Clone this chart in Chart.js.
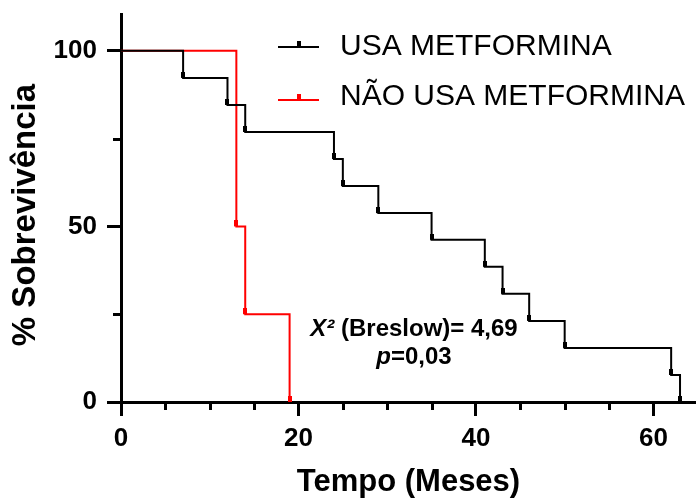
<!DOCTYPE html>
<html>
<head>
<meta charset="utf-8">
<script src="https://cdn.jsdelivr.net/npm/chart.js@4.4.1/dist/chart.umd.min.js"></script>
<style>
  html, body { margin: 0; padding: 0; background: #fff; }
  #wrap { width: 696px; height: 501px; }
</style>
</head>
<body>
<div id="wrap"><canvas id="km" width="696" height="501"></canvas></div>
<script>
// Kaplan-Meier data (months, % survival)
const mesesUsa = [0, 7, 12, 14, 24, 25, 29, 35, 41, 43, 46, 50, 62, 63];
const survUsa  = [100, 92.3, 84.6, 76.9, 69.2, 61.5, 53.8, 46.2, 38.5, 30.8, 23.1, 15.4, 7.7, 0];
const mesesNao = [0, 13, 14, 19];
const survNao  = [100, 50, 25, 0];

const labelUsa = 'USA METFORMINA';
const labelNao = 'NÃO USA METFORMINA';
const xTicksShown = [0, 20, 40, 60];
const yTicksShown = [0, 50, 100];
const statLine1 = ['X²', ' (Breslow)= 4,69'];
const statLine2 = ['p', '=0,03'];

const FONT = "'Liberation Sans', Arial, sans-serif";

// small tick mark drawn above each event point
function makeMark(color) {
  const c = document.createElement('canvas');
  c.width = 4; c.height = 12;
  const g = c.getContext('2d');
  g.fillStyle = color;
  g.fillRect(0, 0, 4, 6);
  return c;
}

function toPoints(xs, ys) {
  return xs.map((x, i) => ({ x: x, y: ys[i] }));
}

const isMajorX = v => v % 20 === 0;
const isMajorY = v => v % 50 === 0;

function noScalePad(s) {
  s.paddingTop = 0; s.paddingBottom = 0;
  s.paddingLeft = 0; s.paddingRight = 0;
}

// minor ticks, custom legend, y title, stats text
const extras = {
  id: 'extras',
  afterDraw(chart) {
    const ctx = chart.ctx;
    const xs = chart.scales.x, ys = chart.scales.y;
    const area = chart.chartArea;
    ctx.save();
    ctx.strokeStyle = '#000';
    ctx.lineWidth = 3;
    xs.ticks.forEach(t => {
      if (isMajorX(t.value)) return;
      const px = Math.round(xs.getPixelForValue(t.value)) + 0.5;
      ctx.beginPath(); ctx.moveTo(px, area.bottom); ctx.lineTo(px, area.bottom + 8); ctx.stroke();
    });
    ys.ticks.forEach(t => {
      if (isMajorY(t.value)) return;
      const py = Math.round(ys.getPixelForValue(t.value)) + 0.5;
      ctx.beginPath(); ctx.moveTo(area.left, py); ctx.lineTo(area.left - 8, py); ctx.stroke();
    });

    // legend
    const rows = [[47, 55], [100, 105]];
    chart.data.datasets.forEach((ds, i) => {
      const [ly, by] = rows[i];
      ctx.strokeStyle = ds.borderColor;
      ctx.lineWidth = 2;
      ctx.beginPath(); ctx.moveTo(278, ly); ctx.lineTo(319, ly); ctx.stroke();
      ctx.fillStyle = ds.borderColor;
      ctx.fillRect(297, ly - 6, 4, 6);
      ctx.fillStyle = '#000';
      ctx.font = '30px ' + FONT;
      ctx.textAlign = 'left';
      ctx.textBaseline = 'alphabetic';
      ctx.fillText(ds.label, 340, by);
    });

    // y title
    ctx.save();
    ctx.translate(26, 215);
    ctx.rotate(-Math.PI / 2);
    ctx.font = 'bold 33px ' + FONT;
    ctx.textAlign = 'center';
    ctx.textBaseline = 'middle';
    ctx.fillStyle = '#000';
    ctx.fillText('% Sobrevivência', 0, 0);
    ctx.restore();

    // stats
    const drawMixed = (parts, cx, by) => {
      const fI = 'italic bold 24px ' + FONT, fB = 'bold 24px ' + FONT;
      ctx.font = fI; const w1 = ctx.measureText(parts[0]).width;
      ctx.font = fB; const w2 = ctx.measureText(parts[1]).width;
      let x = cx - (w1 + w2) / 2;
      ctx.textAlign = 'left';
      ctx.textBaseline = 'alphabetic';
      ctx.fillStyle = '#000';
      ctx.font = fI; ctx.fillText(parts[0], x, by);
      ctx.font = fB; ctx.fillText(parts[1], x + w1, by);
    };
    drawMixed(statLine1, 414, 336);
    drawMixed(statLine2, 414, 364);
    ctx.restore();
  }
};

new Chart(document.getElementById('km'), {
  type: 'line',
  data: {
    datasets: [
      {
        label: labelUsa,
        data: toPoints(mesesUsa, survUsa),
        borderColor: '#000',
        borderWidth: 2,
        stepped: 'before',
        fill: false,
        pointStyle: makeMark('#000'),
        pointRadius: c => c.dataIndex === 0 ? 0 : 3
      },
      {
        label: labelNao,
        data: toPoints(mesesNao, survNao),
        borderColor: '#ff0000',
        borderWidth: 2,
        stepped: 'before',
        fill: false,
        pointStyle: makeMark('#ff0000'),
        pointRadius: c => c.dataIndex === 0 ? 0 : 3
      }
    ]
  },
  options: {
    responsive: false,
    animation: false,
    layout: { autoPadding: false, padding: { top: 14, right: 0, left: 0, bottom: 0 } },
    plugins: { legend: { display: false }, tooltip: { enabled: false } },
    scales: {
      x: {
        type: 'linear',
        min: 0,
        max: 64.8,
        afterFit: s => { s.height = 99; noScalePad(s); },
        border: { display: true, color: '#000', width: 3 },
        grid: {
          drawOnChartArea: false,
          tickLength: 14,
          tickWidth: 3,
          tickColor: c => isMajorX(c.tick.value) ? '#000' : 'rgba(0,0,0,0)'
        },
        ticks: {
          stepSize: 5,
          includeBounds: false,
          autoSkip: false,
          maxRotation: 0,
          padding: 7,
          color: '#000',
          font: { family: FONT, size: 26, weight: 'bold' },
          callback: v => xTicksShown.includes(v) ? String(v) : ''
        },
        title: {
          display: true,
          text: 'Tempo (Meses)',
          color: '#000',
          padding: { top: 0, bottom: 0 },
          font: { family: FONT, size: 31, weight: 'bold' }
        }
      },
      y: {
        type: 'linear',
        min: 0,
        max: 110.5,
        afterFit: s => { s.width = 121; noScalePad(s); },
        border: { display: true, color: '#000', width: 3 },
        grid: {
          drawOnChartArea: false,
          tickLength: 14,
          tickWidth: 3,
          tickColor: c => isMajorY(c.tick.value) ? '#000' : 'rgba(0,0,0,0)'
        },
        ticks: {
          stepSize: 25,
          includeBounds: false,
          autoSkip: false,
          padding: 10,
          color: '#000',
          font: { family: FONT, size: 26, weight: 'bold' },
          callback: v => yTicksShown.includes(v) ? String(v) : ''
        }
      }
    }
  },
  plugins: [extras]
});
</script>
</body>
</html>
